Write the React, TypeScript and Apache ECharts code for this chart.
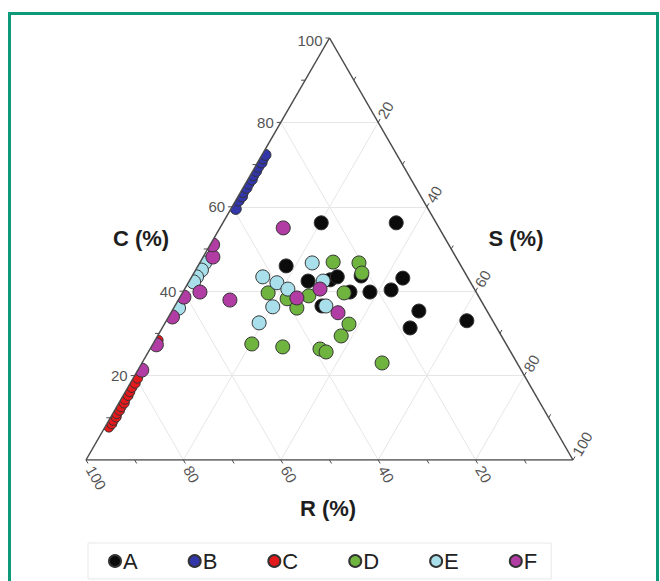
import React, { useEffect, useRef } from "react";
import * as echarts from "echarts";

// Ternary data: C (%) and S (%) per group; R (%) = 100 - C - S
const groupNames = ["A", "B", "C", "D", "E", "F"];
const groupColors = ["#0b0b0b", "#3236a8", "#e3191c", "#6fb43f", "#a9dfea", "#b13ca3"];

const aC = [56.2, 56.2, 46.0, 42.4, 42.7, 43.4, 43.6, 39.8, 39.8, 40.3, 43.1, 35.3, 31.3, 33.0, 36.5];
const aS = [20.2, 35.6, 18.1, 24.4, 28.8, 29.9, 34.7, 34.3, 38.4, 42.5, 43.5, 50.7, 50.9, 61.7, 30.2];

const bC = [59.5, 61.5, 62.5, 63.5, 64.5, 65.5, 66.5, 67.5, 68.5, 69.5, 70.5, 71.5, 72.3];
const bS = [1.0, 0.6, 0.8, 0.5, 0.7, 0.6, 0.8, 0.6, 0.7, 0.6, 0.8, 0.6, 0.7];

const cC = [7.8, 8.6, 9.4, 10.2, 11.0, 11.8, 12.6, 13.5, 14.4, 15.3, 16.2, 17.2, 18.2, 19.4, 28.4];
const cS = [0.8, 1.0, 0.9, 1.1, 0.8, 1.0, 0.9, 1.1, 0.8, 1.0, 0.9, 0.8, 1.0, 0.9, 0.6];

const dC = [46.9, 46.7, 44.3, 39.6, 38.2, 36.0, 38.9, 39.6, 32.2, 29.4, 27.5, 26.8, 26.3, 25.6, 23.0];
const dS = [27.3, 32.7, 34.5, 17.6, 22.2, 25.3, 26.3, 33.2, 37.9, 37.7, 20.3, 27.0, 34.9, 36.5, 49.3];

const eC = [46.7, 43.4, 42.0, 40.5, 42.4, 36.3, 36.5, 32.5, 46.7, 45.0, 43.4, 42.2, 36.0];
const eS = [23.1, 14.6, 18.2, 21.2, 27.5, 20.2, 31.0, 19.3, 1.0, 1.2, 1.0, 1.0, 1.0];

const fC = [55.0, 40.5, 38.4, 34.9, 37.9, 39.8, 48.1, 51.0, 38.6, 33.9, 27.3, 21.3];
const fS = [13.0, 27.8, 24.1, 34.3, 10.6, 3.5, 2.0, 0.5, 0.8, 0.8, 0.8, 0.8];

const groupC = [aC, bC, cC, dC, eC, fC];
const groupS = [aS, bS, cS, dS, eS, fS];
const groupSizes = [14, 11, 10, 14, 14, 14];

const tickLabels = [20, 40, 60, 80, 100];
const gridValues = [20, 40, 60, 80];
const minorTicks = [10, 20, 30, 40, 50, 60, 70, 80, 90, 100];

// ternary (C, S) -> cartesian (x, y), side = 100
const xy = (c: number, s: number) => [s + c / 2, c];

export default function App() {
  const ref = useRef<HTMLDivElement>(null);
  useEffect(() => {
    const chart = echarts.init(ref.current!, null, { renderer: "svg" });

    const gridLines: any[] = [];
    gridValues.forEach((v) => {
      gridLines.push({ coords: [xy(v, 0), xy(v, 100 - v)] }); // C = v
      gridLines.push({ coords: [xy(0, v), xy(100 - v, v)] }); // S = v
      gridLines.push({ coords: [xy(0, 100 - v), xy(100 - v, 0)] }); // R = v
    });
    const edges = [
      { coords: [xy(0, 0), xy(100, 0)] },
      { coords: [xy(100, 0), xy(0, 100)] },
      { coords: [xy(0, 0), xy(0, 100)] },
    ];

    const scatterSeries = groupNames.map((name, i) => ({
      name,
      type: "scatter",
      z: 3,
      symbol: "circle",
      symbolSize: groupSizes[i],
      itemStyle: { color: groupColors[i], borderColor: "#333", borderWidth: 1, opacity: 1 },
      data: groupC[i].map((c, k) => xy(c, groupS[i][k])),
    }));

    chart.setOption({
      animation: false,
      backgroundColor: "#ffffff",
      grid: { left: 86, top: 38, width: 487, height: 422 },
      xAxis: { type: "value", min: 0, max: 100, show: false },
      yAxis: { type: "value", min: 0, max: 100, show: false },
      legend: {
        data: groupNames,
        left: 88,
        top: 543,
        icon: "circle",
        itemWidth: 12,
        itemHeight: 12,
        itemGap: 50,
        padding: [7, 14, 7, 20],
        borderColor: "#e8e8e8",
        borderWidth: 1,
        selectedMode: false,
        textStyle: { fontSize: 22, color: "#222", fontFamily: "Liberation Sans", padding: [0, 0, 0, -3] },
      },
      series: [
        {
          type: "lines",
          coordinateSystem: "cartesian2d",
          z: 1,
          silent: true,
          lineStyle: { color: "#e6e6e6", width: 1, opacity: 1 },
          data: gridLines,
        },
        ...scatterSeries,
        {
          type: "lines",
          coordinateSystem: "cartesian2d",
          z: 6,
          silent: true,
          lineStyle: { color: "#4a4a4a", width: 1.5, opacity: 1 },
          data: edges,
        },
      ],
    });

    const P = (c: number, s: number) => chart.convertToPixel({ gridIndex: 0 }, xy(c, s)) as number[];
    const els: any[] = [];
    const tickStyle = { stroke: "#4a4a4a", lineWidth: 1 };
    const labelFont = { fontSize: 15, fontFamily: "Liberation Sans", fill: "#555" };
    const c60 = Math.cos(Math.PI / 3);
    const s60 = Math.sin(Math.PI / 3);

    // mask strip outside the left edge (clips markers at the edge)
    const L = P(0, 0);
    const T = P(100, 0);
    els.push({
      type: "polygon",
      z: 4,
      silent: true,
      shape: { points: [L, T, [T[0] - 14, T[1]], [L[0] - 14, L[1]]] },
      style: { fill: "#ffffff" },
    });

    minorTicks.forEach((v) => {
      // bottom (R axis): R = v at C=0, S = 100-v
      const pb = P(0, 100 - v);
      els.push({ type: "line", z: 7, shape: { x1: pb[0], y1: pb[1], x2: pb[0] + 4 * c60, y2: pb[1] + 4 * s60 }, style: tickStyle });
      // left (C axis): C = v at S = 0
      const pl = P(v, 0);
      els.push({ type: "line", z: 7, shape: { x1: pl[0], y1: pl[1], x2: pl[0] - 4, y2: pl[1] }, style: tickStyle });
      // right (S axis): S = v at R = 0
      const pr = P(100 - v, v);
      els.push({ type: "line", z: 7, shape: { x1: pr[0], y1: pr[1], x2: pr[0] + 4 * c60, y2: pr[1] - 4 * s60 }, style: tickStyle });
    });

    tickLabels.forEach((v) => {
      const pb = P(0, 100 - v);
      const d = 8;
      els.push({
        type: "text", z: 8, x: pb[0] + d * c60, y: pb[1] + d * s60, rotation: -Math.PI / 3,
        style: { ...labelFont, text: String(v), align: "left", verticalAlign: "middle" },
      });
      const pl = P(v, 0);
      els.push({
        type: "text", z: 8, x: pl[0] - 7, y: pl[1] + (v === 100 ? 2 : 0),
        style: { ...labelFont, text: String(v), align: "right", verticalAlign: "middle" },
      });
      const pr = P(100 - v, v);
      els.push({
        type: "text", z: 8, x: pr[0] + 6 * c60, y: pr[1] - 6 * s60, rotation: Math.PI / 3,
        style: { ...labelFont, text: String(v), align: "left", verticalAlign: "middle" },
      });
    });

    const titleFont = { fontSize: 22, fontWeight: "bold", fontFamily: "Liberation Sans", fill: "#1e1e1e" };
    els.push({ type: "text", z: 8, x: 141, y: 238, style: { ...titleFont, text: "C (%)", align: "center", verticalAlign: "middle" } });
    els.push({ type: "text", z: 8, x: 516, y: 238, style: { ...titleFont, text: "S (%)", align: "center", verticalAlign: "middle" } });
    els.push({ type: "text", z: 8, x: 328, y: 508, style: { ...titleFont, text: "R (%)", align: "center", verticalAlign: "middle" } });

    // green frame
    els.push({
      type: "rect", z: 9, silent: true,
      shape: { x: 9.5, y: 13.5, width: 648, height: 600 },
      style: { fill: "none", stroke: "#0e9a78", lineWidth: 3 },
    });

    chart.setOption({ graphic: { elements: els } });
    return () => chart.dispose();
  }, []);
  return (
    <div
      ref={ref}
      style={{ position: "fixed", left: 0, top: 0, width: 660, height: 581, background: "#fff" }}
    />
  );
}
